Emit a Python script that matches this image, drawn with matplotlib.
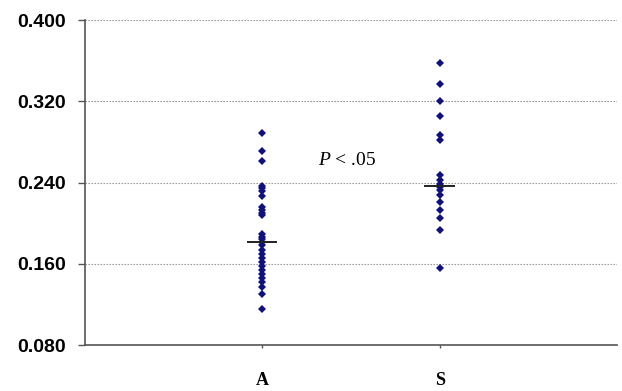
#!/usr/bin/env python3
"""Dot plot of two groups (A, S) with median bars."""

import numpy as np
import matplotlib
matplotlib.use("Agg")
import matplotlib.pyplot as plt

# Data
categories = ["A", "S"]

group_a = [0.289, 0.271, 0.261, 0.2365, 0.2346, 0.2316, 0.2267, 0.2159, 0.2129,
           0.2100, 0.2080, 0.1893, 0.1863, 0.1844, 0.1814, 0.178, 0.174, 0.170,
           0.166, 0.162, 0.158, 0.154, 0.150, 0.146, 0.142, 0.137, 0.130, 0.115]

group_s = [0.3574, 0.3367, 0.3202, 0.3055, 0.2868, 0.2818, 0.2474, 0.2425,
           0.2385, 0.2356, 0.2326, 0.2277, 0.2208, 0.2129, 0.2050, 0.1932, 0.1558]

medians = [0.1814, 0.237]

y_ticks = [0.080, 0.160, 0.240, 0.320, 0.400]

MARKER_COLOR = "#10107e"

plt.rcParams["mathtext.fontset"] = "custom"
plt.rcParams["mathtext.it"] = "Liberation Serif:italic"
plt.rcParams["mathtext.rm"] = "Liberation Serif"

fig = plt.figure(figsize=(6.22, 3.91), dpi=100)
ax = fig.add_axes([0.1367, 0.1176, 0.855, 0.8312])

for i, vals in enumerate([group_a, group_s]):
    xpos = np.full(len(vals), i + 1.0)
    ax.plot(xpos, vals, linestyle="none", marker="D", markersize=4.3,
            color=MARKER_COLOR, markeredgewidth=0)
    ax.hlines(medians[i], i + 1 - 0.085, i + 1 + 0.085, colors="#222222",
              linewidth=1.4, zorder=3)

# P < .05 annotation
ax.text(1.48, 0.262, r"$\mathit{P}$ < .05", ha="center", va="center",
        fontsize=14, family="Liberation Serif")

ax.set_xlim(0, 3)
ax.set_ylim(0.080, 0.400)
ax.set_yticks(y_ticks)
ax.set_yticklabels([f"{t:.3f}" for t in y_ticks], fontweight="bold",
                   fontsize=14, family="Liberation Sans")
ax.set_xticks([1, 2])
ax.set_xticklabels(categories, fontweight="bold", fontsize=13,
                   family="Liberation Serif")

ax.tick_params(axis="y", length=5, width=1, color="#555555", pad=8.5)
ax.tick_params(axis="x", length=2.5, width=1, color="#555555", pad=17)

for y in y_ticks[1:]:
    ax.axhline(y, color="#888888", linestyle=(0, (1.2, 1.5)), linewidth=0.8,
               zorder=0)

for side in ["top", "right"]:
    ax.spines[side].set_visible(False)
ax.spines["left"].set_color("#555555")
ax.spines["bottom"].set_color("#555555")
ax.spines["left"].set_linewidth(1.2)
ax.spines["bottom"].set_linewidth(1.2)

fig.savefig("out.png", dpi=100)
